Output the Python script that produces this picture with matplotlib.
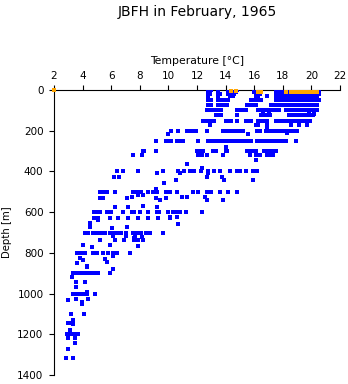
import matplotlib
matplotlib.use("Agg")
import matplotlib.pyplot as plt
import numpy as np

# standard depth levels [m] and the temperatures [degC] read at each level
levels = [0, 10, 20, 30, 50, 75, 100, 125, 150, 200, 250, 300,
          400, 500, 600, 700, 800, 900, 1000, 1200]

t0000 = [12.8, 13.0, 13.5, 14.2, 14.4, 14.6, 14.8, 16.1, 16.3, 16.5, 17.5, 17.7,
         18.0, 18.2, 18.4, 18.6, 18.8, 19.0, 19.2, 19.4, 19.6, 19.8, 20.0, 20.2, 20.4]
t0010 = [12.8, 13.5, 14.3, 14.5, 14.7, 16.0, 16.2, 16.4, 17.6, 17.8, 18.0, 18.2,
         18.4, 18.6, 18.8, 19.0, 19.2, 19.4, 19.6, 19.8, 20.0, 20.2, 20.4, 20.5]
t0020 = [12.9, 13.6, 14.2, 14.4, 14.6, 16.2, 16.4, 17.5, 17.7, 18.1, 18.3, 18.5,
         18.7, 18.9, 19.1, 19.3, 19.5, 19.7, 19.9, 20.1, 20.3, 20.5]
t0030 = [12.8, 13.5, 14.3, 14.5, 16.1, 16.3, 16.9, 17.5, 17.8, 18.0, 18.2, 18.4,
         18.6, 18.8, 19.0, 19.2, 19.4, 19.6, 19.8, 20.0, 20.2, 20.4]
t0050 = [12.8, 13.0, 13.5, 13.7, 13.9, 14.2, 15.8, 16.0, 16.2, 16.5, 17.5, 17.7,
         17.9, 18.1, 18.3, 18.5, 18.7, 18.9, 19.1, 19.3, 19.5, 19.7, 19.9, 20.1,
         20.3, 20.5]
t0075 = [12.8, 13.0, 13.5, 13.7, 13.9, 14.1, 15.5, 15.7, 15.9, 16.1, 17.2, 17.4,
         17.6, 17.8, 18.0, 18.2, 18.4, 18.6, 18.8, 19.0, 19.2, 19.4, 19.6, 19.8,
         20.0, 20.2, 20.4]
t0100 = [12.7, 12.9, 13.1, 13.3, 13.5, 13.7, 14.8, 15.0, 15.2, 15.4, 16.3, 16.5,
         16.7, 16.9, 17.1, 17.3, 17.5, 17.7, 18.2, 18.4, 18.6, 18.8, 19.0, 19.2,
         19.4, 19.6, 19.8, 20.0, 20.2, 20.4]
t0125 = [13.3, 13.5, 13.7, 14.8, 16.5, 16.7, 16.9, 17.1, 18.4, 18.6, 18.8, 19.0,
         19.2, 19.4, 19.6, 19.8, 20.1]
t0150 = [12.4, 12.6, 12.8, 13.0, 13.2, 14.0, 14.2, 14.4, 14.8, 15.4, 15.6, 15.8,
         16.3, 16.5, 16.7, 16.9, 17.5, 17.7, 17.9, 18.1, 18.3, 18.5, 18.7, 18.9,
         19.1, 19.3, 19.5, 19.7, 19.9]
t0200 = [10.2, 10.7, 11.3, 11.5, 11.7, 11.9, 12.7, 13.8, 14.0, 14.2, 14.4, 14.6,
         14.8, 15.0, 15.2, 16.2, 16.4, 16.8, 17.0, 17.2, 17.4, 17.6, 17.8, 18.0,
         18.2, 18.4, 18.6, 18.8, 19.0]
t0250 = [9.1, 9.8, 10.0, 10.2, 10.6, 10.8, 11.0, 12.1, 12.8, 13.0, 13.1, 13.4,
         13.6, 13.8, 14.1, 14.3, 14.5, 14.7, 14.9, 15.1, 15.3, 15.6, 15.8, 16.2,
         16.4, 16.6, 16.8, 17.0, 17.2, 17.4, 17.6, 17.8, 18.0, 18.2, 18.9]
t0300 = [8.2, 8.3, 9.1, 12.0, 12.2, 12.4, 13.1, 13.3, 14.0, 14.1, 15.5, 15.7,
         15.9, 16.1, 16.7, 16.9, 17.1, 17.3, 17.5]
t0400 = [6.4, 6.8, 7.9, 9.6, 10.7, 11.1, 11.5, 11.8, 12.3, 12.8, 13.2, 13.6,
         14.3, 14.8, 15.0, 15.4, 15.9, 16.2]
t0500 = [5.2, 5.5, 5.7, 6.3, 7.5, 7.8, 8.1, 8.6, 8.9, 9.2, 9.8, 10.1,
         10.6, 11.7, 12.1, 12.7, 13.0, 13.6, 14.2, 14.8]
t0600 = [4.8, 5.0, 5.2, 5.7, 6.0, 6.8, 7.45, 7.6, 8.0, 8.6, 9.2, 9.35, 10.0,
         10.3, 10.6, 10.8, 11.2, 12.35]
t0700 = [4.2, 4.4, 4.7, 5.0, 5.3, 5.6, 5.9, 6.2, 6.4, 6.7, 7.0, 7.5, 7.8,
         8.1, 8.4, 8.7, 9.6]
t0800 = [3.6, 3.8, 4.0, 4.2, 4.7, 5.0, 5.4, 5.8, 6.1, 6.4, 7.3]
t0900 = [3.3, 3.5, 3.7, 3.9, 4.1, 4.3, 4.5, 4.7, 4.9, 5.1, 5.9]
t1000 = [3.3, 3.5, 3.7, 3.9, 4.1, 4.3, 4.9]
t1200 = [2.9, 3.1, 3.3, 3.5, 3.7]

level_temps = [t0000, t0010, t0020, t0030, t0050, t0075, t0100, t0125, t0150,
               t0200, t0250, t0300, t0400, t0500, t0600, t0700, t0800, t0900,
               t1000, t1200]

# casts between the standard levels
odd_depth = [118, 118, 118, 118, 170, 170, 170, 170, 170, 170, 170, 185, 210, 214,
             214, 278, 320, 320, 320, 320, 320, 320, 320, 320, 320, 320, 320, 320,
             342, 365, 385, 410, 410, 410, 425, 425, 425, 425, 440, 440, 440, 455,
             485, 515, 515, 525, 525, 525, 525, 530, 530, 530, 530, 530, 540, 540,
             540, 570, 575, 575, 575, 623, 623, 630, 630, 630, 630, 630, 630, 630,
             630, 630, 638, 653, 658, 672, 672, 677, 715, 718, 718, 720, 725, 737,
             737, 737, 737, 737, 737, 760, 760, 768, 770, 815, 825, 830, 835, 845,
             850, 865, 870, 880, 920, 945, 945, 968, 993, 1027, 1027, 1030, 1040,
             1052, 1100, 1100, 1130, 1146, 1146, 1150, 1180, 1220, 1220, 1245,
             1270, 1318, 1318]
odd_temp = [16.6, 17.0, 19.8, 20.2, 12.9, 16.1, 16.3, 16.9, 18.6, 19.1, 19.7, 16.9,
            18.3, 10.0, 15.6, 14.0, 7.5, 8.15, 12.1, 12.35, 12.7, 13.8, 15.7, 16.1,
            16.4, 16.9, 17.1, 17.3, 16.1, 11.3, 12.35, 9.2, 10.8, 12.8, 6.2, 6.55,
            12.7, 13.75, 10.5, 13.9, 15.9, 9.7, 9.1, 7.9, 8.2, 7.45, 10.95, 11.3,
            12.56, 5.2, 5.4, 7.1, 9.1, 9.8, 9.4, 12.7, 13.8, 8.2, 6.3, 7.2, 9.2,
            10.1, 10.6, 4.8, 5.1, 5.9, 6.5, 7.2, 7.9, 8.6, 9.3, 10.1, 5.1, 4.5,
            10.7, 4.5, 7.1, 6.05, 7.65, 6.1, 7.0, 8.15, 7.6, 5.2, 6.3, 6.9, 7.6,
            7.9, 8.2, 4.0, 5.9, 7.9, 4.65, 6.1, 3.8, 5.6, 4.0, 5.7, 3.6, 4.3, 4.3,
            6.1, 3.26, 3.55, 4.2, 3.55, 4.3, 3.55, 4.4, 3.0, 3.95, 3.95, 4.1, 3.2,
            3.3, 3.0, 3.25, 3.35, 3.1, 3.0, 3.45, 3.45, 3.0, 2.85, 3.35]

# flagged near-surface values (drawn in orange)
flag_depth = [0, 7, 7, 8, 8, 10, 8, 8, 8, 8, 8, 8, 8, 8, 8, 8]
flag_temp = [2.0, 14.4, 14.7, 16.3, 16.5, 18.2, 18.6, 18.8, 19.0, 19.2, 19.4,
             19.6, 19.8, 20.0, 20.2, 20.4]

depth = np.concatenate([[d] * len(t) for d, t in zip(levels, level_temps)] + [odd_depth])
temp = np.concatenate(level_temps + [odd_temp])

fig = plt.figure(figsize=(3.48, 3.84), dpi=100)
ax = fig.add_axes([54 / 348, 1 - 375 / 384, 286 / 348, 285 / 384])

ax.scatter(temp, depth, marker="s", s=5, c="#0000ff", linewidths=0, zorder=3)
ax.scatter(flag_temp, flag_depth, marker="s", s=5, c="#ffa500", linewidths=0,
           zorder=4, clip_on=False)

ax.set_xlim(2, 22)
ax.set_ylim(1400, 0)
ax.set_xticks(np.arange(2, 23, 2))
ax.set_yticks(np.arange(0, 1401, 200))

ax.xaxis.tick_top()
ax.xaxis.set_label_position("top")
ax.spines["bottom"].set_visible(False)
ax.spines["right"].set_visible(False)
for s in ["top", "left"]:
    ax.spines[s].set_linewidth(0.8)
ax.tick_params(axis="both", direction="out", length=3.6, width=0.8,
               labelsize=7.5, pad=3)
ax.tick_params(axis="y", pad=4)
ax.set_xlabel("Temperature [\u00b0C]", fontsize=7.8, labelpad=5)

fig.text(7 / 348, 1 - 232 / 384, "Depth [m]", rotation=90, fontsize=7.3,
         ha="center", va="center")
fig.text(197 / 348, 1 - 12 / 384, "JBFH in February, 1965", fontsize=10,
         ha="center", va="center")

fig.savefig("out.png", dpi=100)
